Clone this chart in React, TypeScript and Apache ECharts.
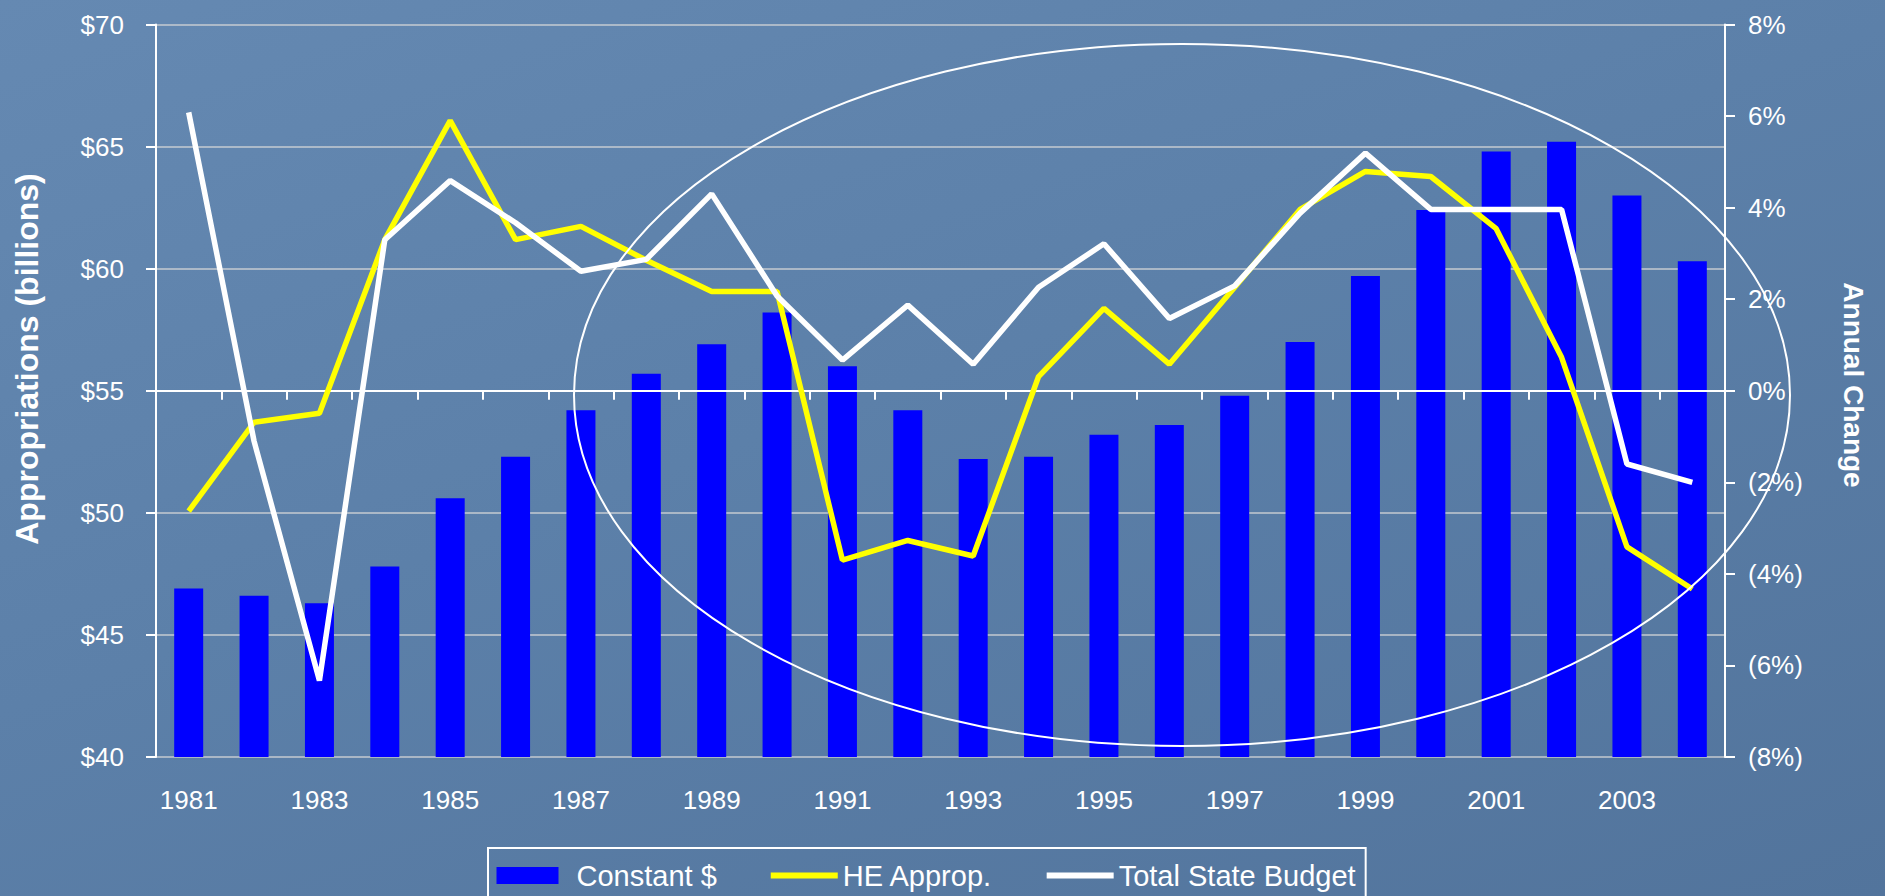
import React, { useEffect, useRef } from "react";
import * as echarts from "echarts";

const years = [
  "1981", "1982", "1983", "1984", "1985", "1986", "1987", "1988", "1989", "1990", "1991", "1992",
  "1993", "1994", "1995", "1996", "1997", "1998", "1999", "2000", "2001", "2002", "2003", "2004",
];
const constantDollars = [
  46.9, 46.6, 46.3, 47.8, 50.6, 52.3, 54.2, 55.7, 56.9, 58.2, 56.0, 54.2,
  52.2, 52.3, 53.2, 53.6, 54.8, 57.0, 59.7, 62.4, 64.8, 65.2, 63.0, 60.3,
];
const heApprop = [
  -2.63, -0.69, -0.49, 3.3, 5.9, 3.3, 3.59, 2.85, 2.17, 2.17, -3.7, -3.27,
  -3.61, 0.31, 1.8, 0.58, 2.26, 3.96, 4.79, 4.68, 3.54, 0.73, -3.41, -4.33,
];
const totalStateBudget = [
  6.08, -1.1, -6.33, 3.3, 4.59, 3.67, 2.61, 2.87, 4.3, 2.07, 0.67, 1.87,
  0.58, 2.26, 3.21, 1.58, 2.29, 3.88, 5.19, 3.96, 3.96, 3.96, -1.6, -2.0,
];
const seriesNames = ["Constant $", "HE Approp.", "Total State Budget"];
const leftTitle = "Appropriations (billions)";
const rightTitle = "Annual Change";

const FONT = "'Liberation Sans', Arial, Helvetica, sans-serif";
const RECT_ICON = "path://M0,0h62v17h-62z";
const LINE_ICON = "path://M0,0h67v6h-67z";

export default function App() {
  const ref = useRef<HTMLDivElement>(null);

  useEffect(() => {
    if (!ref.current) return;
    const chart = echarts.init(ref.current, undefined, { renderer: "svg" });
    chart.setOption({
      animation: false,
      backgroundColor: "transparent",
      textStyle: { fontFamily: FONT },
      grid: { left: 156, right: 160, top: 24.5, bottom: 139, containLabel: false },
      legend: {
        left: 488,
        top: 848,
        orient: "horizontal",
        padding: [13, 10, 20, 8.5],
        borderColor: "#ffffff",
        borderWidth: 2,
        itemWidth: 67,
        itemHeight: 17,
        itemGap: 54,
        selectedMode: false,
        textStyle: { color: "#ffffff", fontSize: 29, fontFamily: FONT },
        data: [
          { name: seriesNames[0], icon: RECT_ICON, textStyle: { padding: [0, 0, 0, 10.5] } },
          { name: seriesNames[1], icon: LINE_ICON },
          { name: seriesNames[2], icon: LINE_ICON },
        ],
      },
      xAxis: {
        type: "category",
        data: years,
        boundaryGap: true,
        axisLine: { show: true, lineStyle: { color: "#ffffff", width: 2 } },
        axisTick: { show: true, interval: 0, length: 9, lineStyle: { color: "#ffffff", width: 2 } },
        axisLabel: { interval: 1, color: "#ffffff", fontSize: 26, margin: 30, fontFamily: FONT },
        splitLine: { show: false },
      },
      yAxis: [
        {
          type: "value",
          position: "left",
          min: 40,
          max: 70,
          interval: 5,
          axisLine: { show: true, lineStyle: { color: "#ffffff", width: 2 } },
          axisTick: { show: true, length: 10, lineStyle: { color: "#ffffff", width: 2 } },
          axisLabel: {
            color: "#ffffff",
            fontSize: 26,
            margin: 32,
            fontFamily: FONT,
            formatter: (v: number) => "$" + v,
          },
          splitLine: { show: true, lineStyle: { color: "rgba(215,215,215,0.85)", width: 1.5 } },
        },
        {
          type: "value",
          position: "right",
          min: -8,
          max: 8,
          interval: 2,
          axisLine: { show: true, lineStyle: { color: "#ffffff", width: 2 } },
          axisTick: { show: true, length: 10, lineStyle: { color: "#ffffff", width: 2 } },
          axisLabel: {
            color: "#ffffff",
            fontSize: 26,
            margin: 23,
            fontFamily: FONT,
            formatter: (v: number) => (v < 0 ? `(${-v}%)` : `${v}%`),
          },
          splitLine: { show: false },
        },
      ],
      series: [
        {
          name: seriesNames[0],
          type: "bar",
          data: constantDollars,
          yAxisIndex: 0,
          barWidth: 29,
          itemStyle: { color: "#0000ff" },
          z: 2,
        },
        {
          name: seriesNames[1],
          type: "line",
          data: heApprop,
          yAxisIndex: 1,
          symbol: "none",
          color: "#ffff00",
          lineStyle: { color: "#ffff00", width: 5.5 },
          z: 4,
          markLine: {
            silent: true,
            symbol: "none",
            label: { show: false },
            lineStyle: { color: "#ffffff", width: 2, type: "solid" },
            data: [{ yAxis: 0 }],
            z: 3,
          },
        },
        {
          name: seriesNames[2],
          type: "line",
          data: totalStateBudget,
          yAxisIndex: 1,
          symbol: "none",
          color: "#ffffff",
          lineStyle: { color: "#ffffff", width: 5.5 },
          z: 5,
        },
      ],
      graphic: [
        {
          type: "ellipse",
          shape: { cx: 1182, cy: 395, rx: 608, ry: 351 },
          style: { fill: "none", stroke: "#ffffff", lineWidth: 2 },
          silent: true,
          z: 10,
        },
        {
          type: "text",
          x: 27,
          y: 359,
          rotation: Math.PI / 2,
          style: {
            text: leftTitle,
            fill: "#ffffff",
            font: `bold 32px ${FONT}`,
            textAlign: "center",
            textVerticalAlign: "middle",
          },
        },
        {
          type: "text",
          x: 1853,
          y: 385,
          rotation: -Math.PI / 2,
          style: {
            text: rightTitle,
            fill: "#ffffff",
            font: `bold 28px ${FONT}`,
            textAlign: "center",
            textVerticalAlign: "middle",
          },
        },
      ],
    });
    return () => chart.dispose();
  }, []);

  return (
    <div
      style={{
        position: "fixed",
        left: 0,
        top: 0,
        width: 1885,
        height: 896,
        background: "linear-gradient(160deg, #6589b2 0%, #5c80a9 45%, #52749c 100%)",
        overflow: "hidden",
      }}
    >
      <div ref={ref} style={{ width: 1885, height: 896 }} />
    </div>
  );
}
